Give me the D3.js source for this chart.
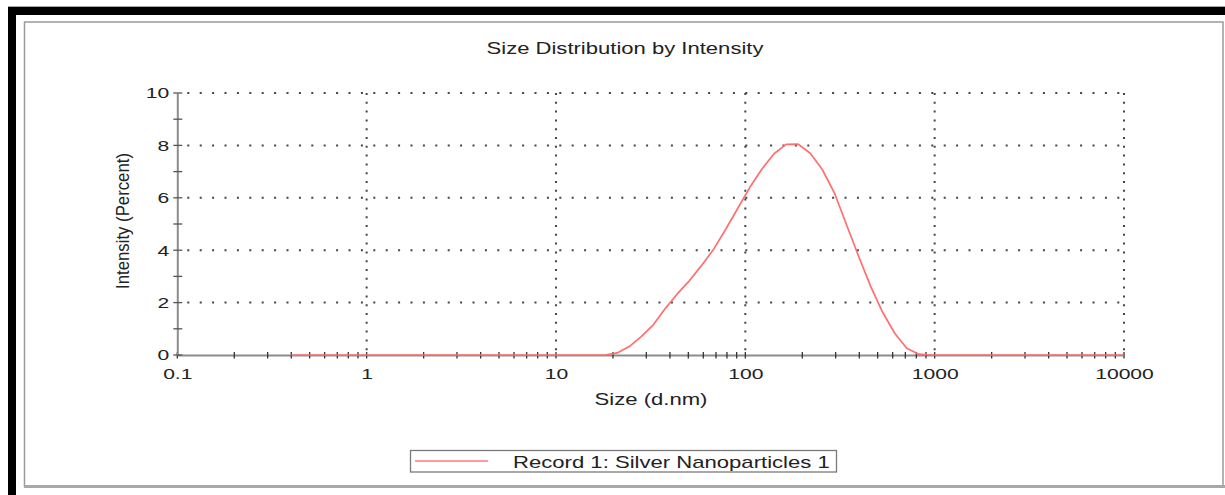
<!DOCTYPE html>
<html>
<head>
<meta charset="utf-8">
<script src="https://cdn.jsdelivr.net/npm/d3@7"></script>
<style>
  html, body { margin: 0; padding: 0; background: #fff; }
  svg { display: block; }
  text { font-family: "Liberation Sans", Arial, sans-serif; fill: #222; }
</style>
</head>
<body>
<svg id="chart" width="1225" height="495"></svg>
<script>
// ---- Data ----
const sizes = [0.4, 0.4632, 0.5365, 0.6213, 0.7195, 0.8332, 0.9649, 1.117, 1.294, 1.499,
  1.736, 2.01, 2.328, 2.696, 3.122, 3.615, 4.187, 4.849, 5.615, 6.503,
  7.531, 8.721, 10.1, 11.7, 13.54, 15.69, 18.17, 21.04, 24.36, 28.21,
  32.67, 37.84, 43.82, 50.75, 58.77, 68.06, 78.82, 91.28, 105.7, 122.4,
  141.8, 164.2, 190.1, 220.2, 255.0, 295.3, 342.0, 396.1, 458.7, 531.2,
  615.1, 712.4, 825.0, 955.4, 1106, 1281, 1484, 1718, 1990, 2305,
  2669, 3091, 3580, 4145, 4801, 5560, 6439, 7456, 8635, 10000];
const intensity = [0, 0, 0, 0, 0, 0, 0, 0, 0, 0,
  0, 0, 0, 0, 0, 0, 0, 0, 0, 0,
  0, 0, 0, 0, 0, 0, 0, 0.08, 0.32, 0.70,
  1.15, 1.78, 2.34, 2.84, 3.42, 4.04, 4.80, 5.60, 6.40, 7.10,
  7.68, 8.04, 8.05, 7.70, 7.08, 6.19, 4.98, 3.78, 2.63, 1.63,
  0.83, 0.26, 0.03, 0, 0, 0, 0, 0, 0, 0,
  0, 0, 0, 0, 0, 0, 0, 0, 0, 0];
const xMajorTicks = [0.1, 1, 10, 100, 1000, 10000];
const xTickLabels = ["0.1", "1", "10", "100", "1000", "10000"];
const yMajorTicks = [0, 2, 4, 6, 8, 10];
const yMinorTicks = [1, 3, 5, 7, 9];
const chartTitle = "Size Distribution by Intensity";
const xTitle = "Size (d.nm)";
const yTitle = "Intensity (Percent)";
const seriesName = "Record 1: Silver Nanoparticles 1";

// ---- Layout ----
const SX = 1.36; // horizontal stretch of the reference text
const svg = d3.select("#chart");
const x = d3.scaleLog().domain([0.1, 10000]).range([177.3, 1124]);
const y = d3.scaleLinear().domain([0, 10]).range([355, 93]);

// outer black border (top & left)
svg.append("rect").attr("x", 8).attr("y", 7).attr("width", 1217).attr("height", 8).attr("fill", "#000");
svg.append("rect").attr("x", 8).attr("y", 7).attr("width", 8).attr("height", 488).attr("fill", "#000");
svg.append("line").attr("x1", 8).attr("x2", 1225).attr("y1", 6.5).attr("y2", 6.5).attr("stroke", "#aaa").attr("stroke-width", 1);

// inner frame
svg.append("rect").attr("x", 24.5).attr("y", 22).attr("width", 1198.5).attr("height", 464)
  .attr("fill", "#fff").attr("stroke", "#9a9a9a").attr("stroke-width", 1.5);
svg.append("line").attr("x1", 24).attr("x2", 1225).attr("y1", 486.5).attr("y2", 486.5)
  .attr("stroke", "#a8a8a8").attr("stroke-width", 3);

function stretchText(sel, target) {
  sel.each(function() {
    const el = this;
    const w = el.getComputedTextLength();
    const s = target ? target / w : SX;
    const cx = +el.getAttribute("x") || 0;
    const cy = +el.getAttribute("y") || 0;
    el.setAttribute("transform", `translate(${cx},${cy}) scale(${s},1)`);
    el.setAttribute("x", 0);
    el.setAttribute("y", 0);
  });
}

// title
svg.append("text").attr("x", 625).attr("y", 54).attr("text-anchor", "middle")
  .attr("font-size", 16.5).text(chartTitle).call(stretchText, 277);

// gridlines
const grid = svg.append("g");
grid.selectAll("line.h").data(yMajorTicks.filter(d => d > 0)).join("line")
  .attr("x1", x(0.1) + 10).attr("x2", x(10000))
  .attr("y1", d => y(d)).attr("y2", d => y(d))
  .attr("stroke", "#444").attr("stroke-width", 2)
  .attr("stroke-dasharray", "2 10.4");
grid.selectAll("line.v").data(xMajorTicks.filter(d => d > 0.1)).join("line")
  .attr("x1", d => x(d)).attr("x2", d => x(d))
  .attr("y1", y(10)).attr("y2", y(0))
  .attr("stroke", "#444").attr("stroke-width", 2)
  .attr("stroke-dasharray", "2 6.8");

// minor x ticks (2..9 in each decade)
const xMinor = [];
xMajorTicks.slice(0, -1).forEach(d => { for (let k = 2; k <= 9; k++) xMinor.push(d * k); });

// x axis
const xAxis = d3.axisBottom(x).tickValues(xMajorTicks).tickFormat((d, i) => xTickLabels[i])
  .tickSizeInner(0).tickSizeOuter(0).tickPadding(18);
const gx = svg.append("g").attr("transform", `translate(0,${y(0)})`).call(xAxis);
gx.select(".domain").attr("stroke", "#8c8c8c").attr("stroke-width", 2);
gx.selectAll(".tick text").attr("font-size", 15.5).attr("fill", "#222").attr("font-family", "Liberation Sans, Arial, sans-serif")
  .attr("dy", "0.4em").call(stretchText);
const gxm = svg.append("g");
gxm.selectAll("line").data(xMajorTicks.concat(xMinor)).join("line")
  .attr("x1", d => x(d)).attr("x2", d => x(d))
  .attr("y1", y(0) - 3).attr("y2", y(0) + 3.5)
  .attr("stroke", "#333").attr("stroke-width", 1.3);

// y axis
const yAxis = d3.axisLeft(y).tickValues(yMajorTicks).tickSizeInner(0).tickSizeOuter(0).tickPadding(8);
const gy = svg.append("g").attr("transform", `translate(${x(0.1)},0)`).call(yAxis);
gy.select(".domain").attr("stroke", "#8c8c8c").attr("stroke-width", 2);
gy.selectAll(".tick text").attr("font-size", 15.5).attr("fill", "#222").attr("font-family", "Liberation Sans, Arial, sans-serif")
  .call(stretchText);
gy.selectAll(".tick line").remove();
const gym = svg.append("g");
gym.selectAll("line").data(yMajorTicks.concat(yMinorTicks)).join("line")
  .attr("x1", x(0.1) - 4).attr("x2", x(0.1) + 5)
  .attr("y1", d => y(d)).attr("y2", d => y(d))
  .attr("stroke", "#555").attr("stroke-width", 1.3);

// axis titles
svg.append("text").attr("x", 651).attr("y", 405).attr("text-anchor", "middle")
  .attr("font-size", 16).text(xTitle).call(stretchText, 113);
const yt = svg.append("text").attr("text-anchor", "middle").attr("font-size", 14)
  .attr("textLength", 136).attr("lengthAdjust", "spacingAndGlyphs")
  .attr("transform", `translate(129,221) scale(1.32,1) rotate(-90)`).text(yTitle);

// series line
const line = d3.line().x((d, i) => x(sizes[i])).y(d => y(d));
svg.append("path").datum(intensity).attr("d", line)
  .attr("fill", "none").attr("stroke", "#ff6f6f").attr("stroke-width", 1.7)
  .attr("stroke-linejoin", "round");

// legend
const lg = svg.append("g");
lg.append("rect").attr("x", 410.5).attr("y", 450.5).attr("width", 426).attr("height", 21.5)
  .attr("fill", "#fff").attr("stroke", "#7a7a7a").attr("stroke-width", 1.3);
lg.append("line").attr("x1", 415).attr("x2", 488).attr("y1", 461).attr("y2", 461)
  .attr("stroke", "#ff7a7a").attr("stroke-width", 1.7);
lg.append("text").attr("x", 513).attr("y", 467.5).attr("font-size", 16)
  .text(seriesName).call(stretchText, 317);
// center anchor correction for legend text (left anchored)
</script>
</body>
</html>
